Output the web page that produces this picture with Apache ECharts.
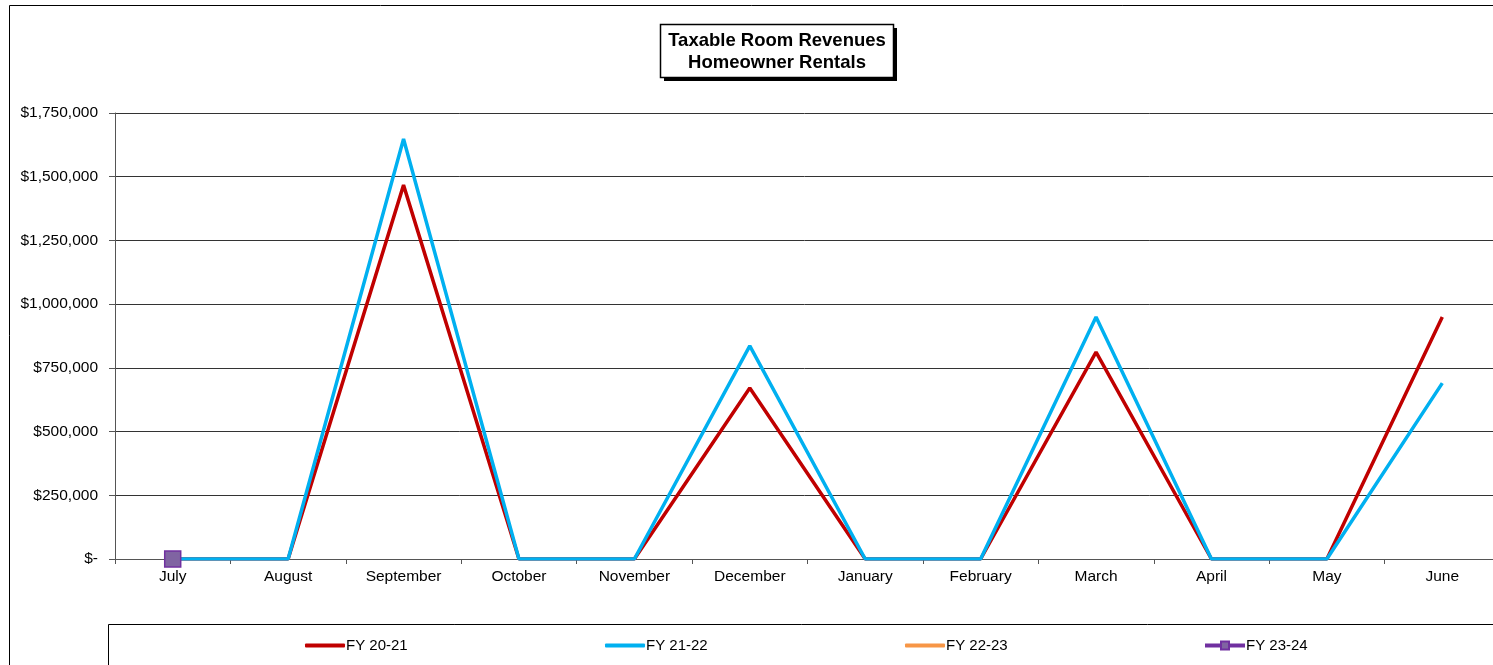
<!DOCTYPE html>
<html>
<head>
<meta charset="utf-8">
<script src="https://cdn.jsdelivr.net/npm/echarts@6/dist/echarts.min.js"></script>
<style>
  html, body { margin: 0; padding: 0; background: #fff; }
  #chart { width: 1493px; height: 665px; }
</style>
</head>
<body>
<div id="chart"></div>
<script>
// months of the fiscal year
const months = ['July', 'August', 'September', 'October', 'November', 'December',
  'January', 'February', 'March', 'April', 'May', 'June']
// revenues
const fy2021 = [0, 0, 1467000, 0, 0, 671000, 0, 0, 812000, 0, 0, 950000]
const fy2122 = [0, 0, 1648000, 0, 0, 836000, 0, 0, 950000, 0, 0, 690000]
const fy2223 = [null, null, null, null, null, null, null, null, null, null, null, null]
const fy2324 = [0, null, null, null, null, null, null, null, null, null, null, null]
const yTicks = [0, 250000, 500000, 750000, 1000000, 1250000, 1500000, 1750000]

const font = 'Arial, "Liberation Sans", sans-serif'

function money(v) {
  if (v === 0) return '$-'
  return '$' + v.toLocaleString('en-US')
}

function lineSeries(name, data, color, withMarker) {
  return {
    name: name,
    type: 'line',
    data: data,
    symbol: withMarker ? 'rect' : 'none',
    symbolSize: 16,
    showSymbol: withMarker,
    lineStyle: { color: color, width: 3.5 },
    itemStyle: withMarker ? { color: '#8064A2', borderColor: '#7030A0', borderWidth: 1.5 } : { color: color },
    emphasis: { disabled: true },
    animation: false
  }
}

// one legend per entry so each sits where the original has it
function legendAt(name, left, plain) {
  return {
    data: [plain ? { name: name, icon: 'roundRect' } : name],
    left: left,
    top: 633,
    itemWidth: 40,
    itemHeight: plain ? 4 : 10,
    itemGap: 0,
    lineStyle: { width: 4 },
    textStyle: { fontFamily: font, fontSize: 15, color: '#000', padding: [0, 0, 0, -4] },
    selectedMode: false
  }
}

const myChart = echarts.init(document.getElementById('chart'))
const option = {
  backgroundColor: '#fff',
  animation: false,
  title: {
    text: 'Taxable Room Revenues\nHomeowner Rentals',
    left: 777,
    top: 30,
    textAlign: 'center',
    padding: 0,
    textStyle: { fontFamily: font, fontSize: 18.5, fontWeight: 'bold', color: '#000', lineHeight: 22 }
  },
  graphic: [
    {
      type: 'rect',
      shape: { x: 9.5, y: 5.5, width: 1600, height: 800 },
      style: { fill: 'none', stroke: '#000', lineWidth: 1 },
      z: -1
    },
    {
      type: 'rect',
      shape: { x: 108.5, y: 624.5, width: 1600, height: 100 },
      style: { fill: 'none', stroke: '#000', lineWidth: 1 },
      z: -1
    },
    // title box shadow and frame
    {
      type: 'rect',
      shape: { x: 664, y: 28, width: 233, height: 53 },
      style: { fill: '#000' },
      z: -1
    },
    {
      type: 'rect',
      shape: { x: 660.5, y: 24.5, width: 233, height: 53 },
      style: { fill: '#fff', stroke: '#000', lineWidth: 1.5 },
      z: -1
    }
  ],
  legend: [
    legendAt('FY 20-21', 300, true),
    legendAt('FY 21-22', 600, true),
    legendAt('FY 22-23', 900, true),
    legendAt('FY 23-24', 1198, false)
  ],
  grid: {
    left: 115,
    right: -7,
    top: 113,
    bottom: 106,
    containLabel: false,
    outerBoundsMode: 'none'
  },
  xAxis: {
    type: 'category',
    data: months,
    boundaryGap: true,
    axisLine: { lineStyle: { color: '#555', width: 1 } },
    axisTick: { show: true, alignWithLabel: false, length: 5, lineStyle: { color: '#555' } },
    axisLabel: { fontFamily: font, fontSize: 15.5, color: '#000', margin: 10, interval: 0 }
  },
  yAxis: {
    type: 'value',
    min: 0,
    max: yTicks[yTicks.length - 1],
    interval: yTicks[1] - yTicks[0],
    axisLine: { show: true, lineStyle: { color: '#555', width: 1 } },
    axisTick: { show: true, length: 6, lineStyle: { color: '#555' } },
    axisLabel: { fontFamily: font, fontSize: 15.5, color: '#000', margin: 17, formatter: money },
    splitLine: { show: true, lineStyle: { color: '#333', width: 1 } }
  },
  series: [
    lineSeries('FY 20-21', fy2021, '#C00000', false),
    lineSeries('FY 21-22', fy2122, '#00B0F0', false),
    lineSeries('FY 22-23', fy2223, '#F79646', false),
    lineSeries('FY 23-24', fy2324, '#7030A0', true)
  ]
}
myChart.setOption(option)
</script>
</body>
</html>
